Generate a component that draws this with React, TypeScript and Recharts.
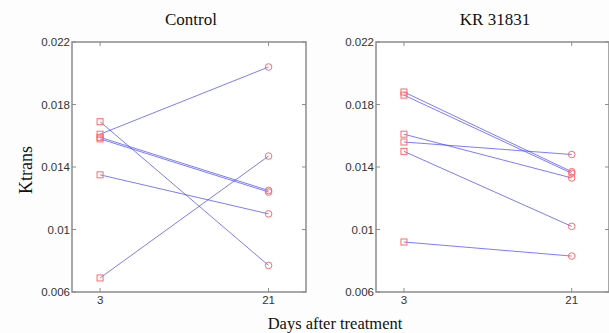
import React from 'react';
import { LineChart, Line, XAxis, YAxis, ReferenceArea } from 'recharts';

// days on the x axis
const days = [3, 21];

// Ktrans per subject, day 3 and day 21
const controlDay3 = [0.0161, 0.0169, 0.0159, 0.0158, 0.0135, 0.0069];
const controlDay21 = [0.0204, 0.0077, 0.0125, 0.0124, 0.011, 0.0147];
const krDay3 = [0.0188, 0.0186, 0.0161, 0.0156, 0.015, 0.0092];
const krDay21 = [0.0137, 0.0136, 0.0133, 0.0148, 0.0102, 0.0083];

const yTicks = [0.006, 0.01, 0.014, 0.018, 0.022];
const yTickLabels = ['0.006', '0.01', '0.014', '0.018', '0.022'];
const xTicks = [3, 21];

const H = 333;
const TOP = 42;
const BOTTOM = 41;
const Y_AXIS_W = 30;
const X_AXIS_H = 20;
const FRAME = '#8c8c8c';
const LINE = '#3c3cff';
const MARK = '#ff6a6a';
const tickFont = { fontFamily: 'Liberation Sans, Arial, sans-serif', fontSize: 11.5, fill: '#333' };

interface PanelProps {
    start: number[];
    end: number[];
    left: number;
    width: number;
    plotLeft: number;
    marginRight: number;
}

function Panel({ start, end, left, width, plotLeft, marginRight }: PanelProps) {
    const plotRight = width - marginRight;
    const plotTop = TOP;
    const plotBottom = H - BOTTOM;

    const series = start.map((v, i) => [
        { day: days[0], k: v },
        { day: days[1], k: end[i] },
    ]);

    const renderDot = (p: any) => {
        const { cx, cy, payload, index } = p;
        if (cx == null || cy == null) return <g key={`d-${index}`} />;
        if (payload.day === days[0]) {
            return (
                <rect key={`d-${index}`} x={cx - 3} y={cy - 3} width={6} height={6}
                    fill="none" stroke={MARK} strokeWidth={1} />
            );
        }
        return <circle key={`d-${index}`} cx={cx} cy={cy} r={3.3} fill="none" stroke={MARK} strokeWidth={1} />;
    };

    const renderYTick = (p: any) => {
        const { y, payload } = p;
        const idx = yTicks.indexOf(payload.value);
        return (
            <g>
                <text x={plotLeft - 2} y={y} dy="0.35em" textAnchor="end" {...tickFont}>
                    {idx >= 0 ? yTickLabels[idx] : payload.value}
                </text>
                <line x1={plotLeft} x2={plotLeft + 4} y1={y} y2={y} stroke={FRAME} strokeWidth={1} />
                <line x1={plotRight - 4} x2={plotRight} y1={y} y2={y} stroke={FRAME} strokeWidth={1} />
            </g>
        );
    };

    const renderXTick = (p: any) => {
        const { x, payload } = p;
        return (
            <g>
                <text x={x} y={plotBottom + 12} textAnchor="middle" {...tickFont}>
                    {payload.value}
                </text>
                <line x1={x} x2={x} y1={plotBottom - 4} y2={plotBottom} stroke={FRAME} strokeWidth={1} />
                <line x1={x} x2={x} y1={plotTop} y2={plotTop + 4} stroke={FRAME} strokeWidth={1} />
            </g>
        );
    };

    return (
        <div style={{ position: 'absolute', left, top: 0 }}>
            <LineChart width={width} height={H}
                margin={{ top: TOP, right: marginRight, bottom: BOTTOM - X_AXIS_H, left: plotLeft - Y_AXIS_W }}>
                <ReferenceArea x1={0} x2={25} y1={0.006} y2={0.022} fill="#ffffff" fillOpacity={1}
                    stroke={FRAME} strokeWidth={1.5} ifOverflow="visible" />
                <XAxis type="number" dataKey="day" domain={[0, 25]} ticks={xTicks} height={X_AXIS_H}
                    axisLine={false} tickLine={false} interval={0} tick={renderXTick}
                    allowDataOverflow />
                <YAxis type="number" domain={[0.006, 0.022]} ticks={yTicks} width={Y_AXIS_W}
                    axisLine={false} tickLine={false} interval={0} tick={renderYTick}
                    allowDataOverflow />
                {series.map((d, i) => (
                    <Line key={i} data={d} dataKey="k" type="linear" stroke={LINE} strokeOpacity={0.75}
                        strokeWidth={0.9} dot={renderDot} activeDot={false} isAnimationActive={false} />
                ))}
            </LineChart>
        </div>
    );
}

export default function App() {
    const serif = 'Liberation Serif, Times New Roman, serif';
    return (
        <div style={{ position: 'absolute', left: 0, top: 0, width: 609, height: H, background: '#fdfdfd', overflow: 'hidden' }}>
            <Panel start={controlDay3} end={controlDay21} left={0} width={310} plotLeft={72} marginRight={4} />
            <Panel start={krDay3} end={krDay21} left={300} width={309} plotLeft={76} marginRight={0} />
            <svg width={609} height={H} style={{ position: 'absolute', left: 0, top: 0, pointerEvents: 'none' }}>
                <text x={191} y={25} textAnchor="middle" fontFamily={serif} fontSize={17} fill="#111">Control</text>
                <text x={495} y={25} textAnchor="middle" fontFamily={serif} fontSize={17} fill="#111">KR 31831</text>
                <text x={31.5} y={170} transform="rotate(-90 31.5 170)" textAnchor="middle" fontFamily={serif}
                    fontSize={18} fill="#111">Ktrans</text>
                <text x={335} y={329} textAnchor="middle" fontFamily={serif} fontSize={16.5} fill="#111">Days after treatment</text>
            </svg>
        </div>
    );
}
